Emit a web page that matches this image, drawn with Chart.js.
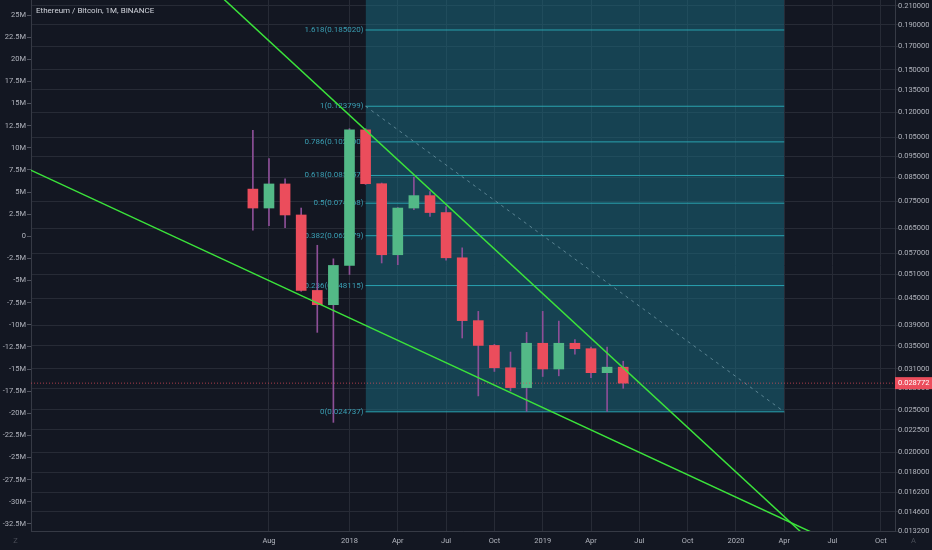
<!DOCTYPE html>
<html>
<head>
<meta charset="utf-8">
<title>Ethereum / Bitcoin, 1M, BINANCE</title>
<script src="https://cdn.jsdelivr.net/npm/chart.js@4.4.1/dist/chart.umd.min.js"></script>
<style>
  html, body { margin: 0; padding: 0; background: #131722; }
  #wrap { width: 932px; height: 550px; position: relative; }
</style>
</head>
<body>
<div id="wrap"><canvas id="ethChart"></canvas></div>
<script>
// monthly candles, ETH/BTC Binance
const candleMonths = ["2017-07", "2017-08", "2017-09", "2017-10", "2017-11", "2017-12",
  "2018-01", "2018-02", "2018-03", "2018-04", "2018-05", "2018-06",
  "2018-07", "2018-08", "2018-09", "2018-10", "2018-11", "2018-12",
  "2019-01", "2019-02", "2019-03", "2019-04", "2019-05", "2019-06"];
const opens = [0.0800, 0.0724, 0.0822, 0.0698, 0.0469, 0.0435, 0.0535, 0.1093, 0.0823, 0.0566, 0.0724, 0.0773,
  0.0707, 0.0557, 0.0400, 0.0351, 0.0312, 0.0281, 0.0355, 0.0310, 0.0355, 0.0345, 0.0304, 0.0313];
const highs = [0.1090, 0.0939, 0.0844, 0.0724, 0.0595, 0.0554, 0.1100, 0.1100, 0.0826, 0.0726, 0.0852, 0.0790,
  0.0730, 0.0587, 0.0420, 0.0353, 0.0339, 0.0376, 0.0420, 0.0399, 0.0362, 0.0348, 0.0348, 0.0323];
const lows = [0.0644, 0.0660, 0.0653, 0.0467, 0.0376, 0.0234, 0.0510, 0.0820, 0.0542, 0.0537, 0.0718, 0.0693,
  0.0550, 0.0365, 0.0269, 0.0306, 0.0276, 0.0248, 0.0298, 0.0299, 0.0335, 0.0296, 0.0248, 0.0280];
const closes = [0.0724, 0.0822, 0.0698, 0.0469, 0.0435, 0.0535, 0.1093, 0.0823, 0.0566, 0.0724, 0.0773, 0.0707,
  0.0557, 0.0400, 0.0351, 0.0312, 0.0281, 0.0355, 0.0310, 0.0355, 0.0345, 0.0304, 0.0313, 0.028772];

// drawn trend lines (two anchors each: month, price)
const upperTrend = [["2017-04", 0.2390], ["2020-07", 0.01126]];
const lowerTrend = [["2016-04", 0.0927], ["2021-01", 0.00984]];

// fib retracement
const fibFrom = "2018-02";
const fibTo = "2020-04";
const fibLevels = [0, 0.236, 0.382, 0.5, 0.618, 0.786, 1, 1.618];
const fibPrices = [0.024737, 0.048115, 0.062579, 0.074268, 0.085957, 0.102600, 0.123799, 0.185020];

// axes
const timeTicks = ["2017-08", "2018-01", "2018-04", "2018-07", "2018-10", "2019-01", "2019-04",
  "2019-07", "2019-10", "2020-01", "2020-04", "2020-07", "2020-10"];
const timeTickLabels = ["Aug", "2018", "Apr", "Jul", "Oct", "2019", "Apr", "Jul", "Oct", "2020", "Apr", "Jul", "Oct"];
const priceTicks = [0.0132, 0.0146, 0.0162, 0.018, 0.02, 0.0225, 0.025, 0.028, 0.031, 0.035, 0.039, 0.045,
  0.051, 0.057, 0.065, 0.075, 0.085, 0.095, 0.105, 0.12, 0.135, 0.15, 0.17, 0.19, 0.21];
const leftTicks = [25, 22.5, 20, 17.5, 15, 12.5, 10, 7.5, 5, 2.5, 0, -2.5, -5, -7.5, -10, -12.5, -15,
  -17.5, -20, -22.5, -25, -27.5, -30, -32.5];

// months counted from Jan 2018
const monthIndex = (s) => {
  const [y, m] = s.split("-").map(Number);
  return (y - 2018) * 12 + (m - 1);
};
const viewFrom = -19.78;
const viewTo = 33.88;

const xs = candleMonths.map(monthIndex);
const bodyColors = opens.map((o, i) => (closes[i] >= o ? "#53b987" : "#eb4d5c"));
const lastPrice = closes[closes.length - 1];
const fibX0 = monthIndex(fibFrom);
const fibX1 = monthIndex(fibTo);
const timeTickValues = timeTicks.map(monthIndex);

const toPoints = (line) => line.map(([m, p]) => ({ x: monthIndex(m), y: p }));

const tickFont = { family: "Roboto", size: 7.5 };
const gridColor = "#272b36";
const borderColor = "#363a45";
const labelColor = "#b2b5be";

// no edge padding, the plot runs to the canvas top
const noPad = (s) => {
  s.paddingTop = 0;
  s.paddingBottom = 0;
  s.paddingLeft = 0;
  s.paddingRight = 0;
};

const fibDatasets = fibPrices.map((p, i) => ({
  type: "line",
  label: "fib " + fibLevels[i],
  data: [{ x: fibX0, y: p }, { x: fibX1, y: p }],
  borderColor: "#2aa3b0",
  borderWidth: 1,
  pointRadius: 0,
  fill: fibLevels[i] === 0 ? "end" : false,
  backgroundColor: "rgba(25,110,130,0.5)",
  order: fibLevels[i] === 0 ? 7 : 6,
}));

const overlay = {
  id: "overlay",
  beforeDatasetsDraw(chart) {
    const { ctx, scales } = chart;
    ctx.save();
    ctx.font = "8px Roboto";
    ctx.fillStyle = "#3a9fb4";
    ctx.textAlign = "right";
    ctx.textBaseline = "middle";
    const x = scales.x.getPixelForValue(fibX0) - 2;
    fibPrices.forEach((p, i) => {
      ctx.fillText(fibLevels[i] + "(" + p.toFixed(6) + ")", x, scales.y.getPixelForValue(p));
    });
    ctx.restore();
  },
  afterDraw(chart) {
    const { ctx, scales, chartArea } = chart;
    ctx.save();
    // symbol title
    ctx.font = "8px Roboto";
    ctx.fillStyle = "#d1d4dc";
    ctx.textAlign = "left";
    ctx.textBaseline = "middle";
    ctx.fillText("Ethereum / Bitcoin, 1M, BINANCE", chartArea.left + 5, 11);

    // last price tag
    const py = scales.y.getPixelForValue(lastPrice);
    ctx.fillStyle = "#eb4d5c";
    ctx.fillRect(chartArea.right, py - 6, chart.width - chartArea.right, 12);
    ctx.fillStyle = "#ffffff";
    ctx.font = "7.5px Roboto";
    ctx.fillText(lastPrice.toFixed(6), chartArea.right + 3, py);

    // corner buttons
    ctx.fillStyle = "#4a4e59";
    ctx.textAlign = "center";
    ctx.fillText("Z", chartArea.left / 2, chartArea.bottom + 10);
    ctx.fillText("A", (chartArea.right + chart.width) / 2, chartArea.bottom + 10);
    ctx.restore();
  },
};

new Chart(document.getElementById("ethChart"), {
  type: "bar",
  data: {
    datasets: [
      {
        type: "line",
        label: "upper trend",
        data: toPoints(upperTrend),
        borderColor: "#3be33b",
        borderWidth: 1.5,
        pointRadius: 0,
        order: 0,
      },
      {
        type: "line",
        label: "lower trend",
        data: toPoints(lowerTrend),
        borderColor: "#3be33b",
        borderWidth: 1.5,
        pointRadius: 0,
        order: 0,
      },
      {
        type: "line",
        label: "last price",
        data: [{ x: viewFrom, y: lastPrice }, { x: viewTo, y: lastPrice }],
        borderColor: "rgba(235,77,92,0.7)",
        borderWidth: 1,
        borderDash: [1, 2],
        pointRadius: 0,
        order: 1,
      },
      {
        label: "body",
        data: xs.map((x, i) => ({ x: x, y: [opens[i], closes[i]] })),
        backgroundColor: bodyColors,
        barThickness: 10,
        grouped: false,
        order: 2,
      },
      {
        label: "wick",
        data: xs.map((x, i) => ({ x: x, y: [lows[i], highs[i]] })),
        backgroundColor: "#8d4f97",
        barThickness: 1,
        grouped: false,
        order: 3,
      },
      {
        type: "line",
        label: "fib trend",
        data: [{ x: fibX0, y: fibPrices[fibLevels.indexOf(1)] }, { x: fibX1, y: fibPrices[0] }],
        borderColor: "rgba(120,160,175,0.7)",
        borderWidth: 1,
        borderDash: [3, 4],
        pointRadius: 0,
        order: 4,
      },
      ...fibDatasets,
    ],
  },
  options: {
    responsive: true,
    maintainAspectRatio: false,
    animation: false,
    layout: { padding: 0 },
    plugins: {
      legend: { display: false },
      tooltip: { enabled: false },
    },
    scales: {
      x: {
        type: "linear",
        min: viewFrom,
        max: viewTo,
        offset: false,
        grid: { offset: false, color: gridColor, drawTicks: false },
        border: { color: borderColor },
        ticks: {
          autoSkip: false,
          maxRotation: 0,
          padding: 6,
          color: labelColor,
          font: tickFont,
          callback: (v) => {
            const i = timeTickValues.indexOf(v);
            return i >= 0 ? timeTickLabels[i] : "";
          },
        },
        afterBuildTicks: (s) => { s.ticks = timeTickValues.map((v) => ({ value: v })); },
        afterFit: (s) => { s.height = 19; noPad(s); },
      },
      y: {
        type: "logarithmic",
        position: "right",
        min: 0.0132,
        max: 0.2167,
        grid: { color: gridColor, tickLength: 3 },
        border: { color: borderColor },
        ticks: {
          padding: 0,
          color: labelColor,
          font: tickFont,
          callback: (v) => Number(v).toFixed(6),
        },
        afterBuildTicks: (s) => { s.ticks = priceTicks.map((v) => ({ value: v })); },
        afterFit: (s) => { s.width = 37; noPad(s); },
      },
      vol: {
        type: "linear",
        position: "left",
        min: -33.3,
        max: 26.7,
        grid: { drawOnChartArea: false, tickLength: 4, color: "#50535e" },
        border: { color: borderColor },
        ticks: {
          padding: 1,
          color: labelColor,
          font: tickFont,
          callback: (v) => (v === 0 ? "0" : v + "M"),
        },
        afterBuildTicks: (s) => { s.ticks = leftTicks.map((v) => ({ value: v })); },
        afterFit: (s) => { s.width = 31; noPad(s); },
      },
    },
  },
  plugins: [overlay],
});
</script>
</body>
</html>
